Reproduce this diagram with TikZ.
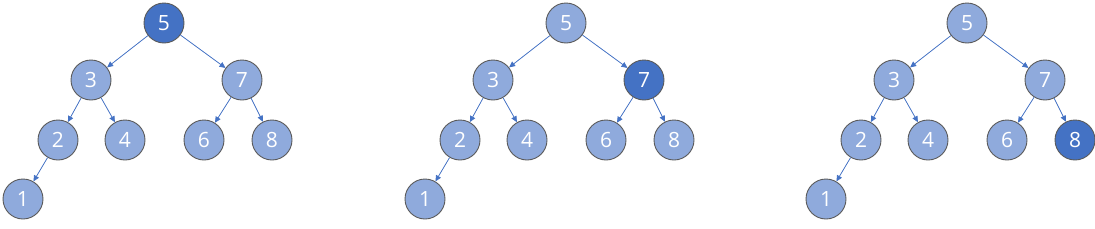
\documentclass[tikz,border=0pt]{standalone}
\usepackage{fontspec}
\setmainfont{Open Sans}
\definecolor{cNode}{HTML}{8FAADC}
\definecolor{cHot}{HTML}{4472C4}
\definecolor{cEdge}{HTML}{4472C4}
\definecolor{cRim}{HTML}{5A5A5A}
\usetikzlibrary{arrows.meta}
\tikzset{
  node-key/.style={circle,draw=cRim,line width=0.9pt,minimum size=40pt,
    inner sep=0pt,text=white,font=\fontsize{21}{21}\selectfont},
  arrow/.style={-{Triangle[length=6pt,width=5.5pt]},draw=cEdge,fill=cEdge,line width=0.75pt},
}
\begin{document}
\begin{tikzpicture}[x=1pt,y=-1pt]
  \useasboundingbox (0,0) rectangle (1095,228);
  % one tree per step, the visited key in dark blue
  \foreach \t/\ox/\hl in {a/164/5,b/566/7,c/967/8}{
    \begin{scope}[shift={(\ox,23)}]
      \foreach \k/\x/\y in {5/0/0,3/-73/57,7/78/57,2/-106/117,4/-39/117,
                            6/40/117,8/108/117,1/-141/176}{
        \ifnum\k=\hl \def\nodefill{cHot}\else\def\nodefill{cNode}\fi
        \node[node-key,fill=\nodefill] (\t\k) at (\x,\y) {\k};
      }
      \foreach \p/\c in {5/3,5/7,3/2,3/4,7/6,7/8,2/1}
        \draw[arrow] (\t\p) -- (\t\c);
    \end{scope}
  }
\end{tikzpicture}
\end{document}
